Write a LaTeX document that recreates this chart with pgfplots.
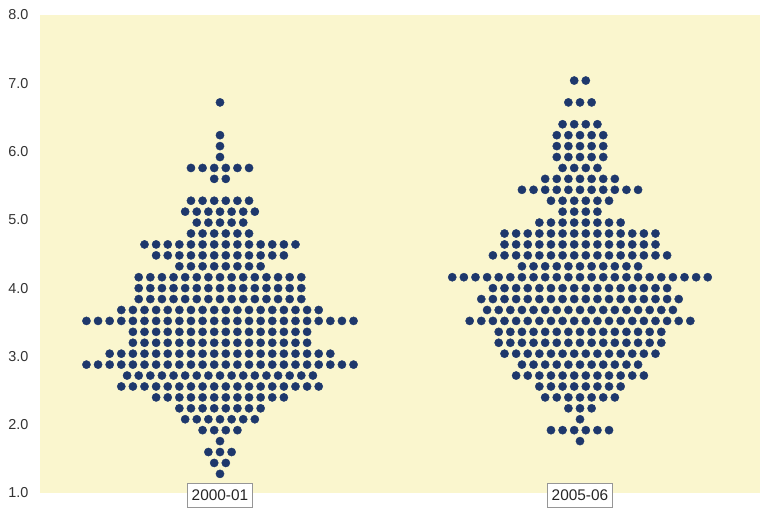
\documentclass[border=0pt]{standalone}
\usepackage{pgfplots}
\pgfplotsset{compat=1.18}
\usepackage{fontspec}
\setmainfont{Liberation Sans}
\definecolor{bgyellow}{RGB}{250,246,206}
\definecolor{navy}{RGB}{30,56,108}
\definecolor{labelgray}{RGB}{51,51,51}
\definecolor{boxgray}{RGB}{150,150,150}
\begin{document}
\begin{tikzpicture}
\begin{axis}[
  at={(0,0)}, anchor=south west,
  scale only axis, width=720pt, height=478pt,
  xmin=-31, xmax=93, ymin=1, ymax=8,
  axis background/.style={fill=bgyellow},
  axis line style={draw=none},
  major tick length=0pt,
  ytick={1,2,3,4,5,6,7,8},
  /pgf/number format/assume math mode=true,
  yticklabel style={/pgf/number format/.cd, fixed, fixed zerofill, precision=1, /tikz/.cd,
    font=\fontsize{14.4}{16}\selectfont, text=labelgray, anchor=east, xshift=-8pt},
  xtick={0,62}, xticklabels={2000-01,2005-06},
  xticklabel style={font=\fontsize{15.4}{17}\selectfont, text=black!85, draw=boxgray, line width=0.7pt,
    fill=white, anchor=center, inner xsep=4.5pt, text height=11pt, text depth=0pt, minimum height=24pt, yshift=-2.3pt},
  clip=false,
]
\addplot[only marks, mark=*, mark size=4.1pt, color=navy, mark options={draw=none, fill=navy}] coordinates {
(0,6.72)
(0,6.24)
(0,6.08)
(0,5.92)
(-5,5.76)(-3,5.76)(-1,5.76)(1,5.76)(3,5.76)(5,5.76)
(-1,5.6)(1,5.6)
(-5,5.28)(-3,5.28)(-1,5.28)(1,5.28)(3,5.28)(5,5.28)
(-6,5.12)(-4,5.12)(-2,5.12)(0,5.12)(2,5.12)(4,5.12)(6,5.12)
(-4,4.96)(-2,4.96)(0,4.96)(2,4.96)(4,4.96)
(-5,4.8)(-3,4.8)(-1,4.8)(1,4.8)(3,4.8)(5,4.8)
(-13,4.64)(-11,4.64)(-9,4.64)(-7,4.64)(-5,4.64)(-3,4.64)(-1,4.64)(1,4.64)(3,4.64)(5,4.64)(7,4.64)(9,4.64)(11,4.64)(13,4.64)
(-11,4.48)(-9,4.48)(-7,4.48)(-5,4.48)(-3,4.48)(-1,4.48)(1,4.48)(3,4.48)(5,4.48)(7,4.48)(9,4.48)(11,4.48)
(-7,4.32)(-5,4.32)(-3,4.32)(-1,4.32)(1,4.32)(3,4.32)(5,4.32)(7,4.32)
(-14,4.16)(-12,4.16)(-10,4.16)(-8,4.16)(-6,4.16)(-4,4.16)(-2,4.16)(0,4.16)(2,4.16)(4,4.16)(6,4.16)(8,4.16)(10,4.16)(12,4.16)(14,4.16)
(-14,4.0)(-12,4.0)(-10,4.0)(-8,4.0)(-6,4.0)(-4,4.0)(-2,4.0)(0,4.0)(2,4.0)(4,4.0)(6,4.0)(8,4.0)(10,4.0)(12,4.0)(14,4.0)
(-14,3.84)(-12,3.84)(-10,3.84)(-8,3.84)(-6,3.84)(-4,3.84)(-2,3.84)(0,3.84)(2,3.84)(4,3.84)(6,3.84)(8,3.84)(10,3.84)(12,3.84)(14,3.84)
(-17,3.68)(-15,3.68)(-13,3.68)(-11,3.68)(-9,3.68)(-7,3.68)(-5,3.68)(-3,3.68)(-1,3.68)(1,3.68)(3,3.68)(5,3.68)(7,3.68)(9,3.68)(11,3.68)(13,3.68)(15,3.68)(17,3.68)
(-23,3.52)(-21,3.52)(-19,3.52)(-17,3.52)(-15,3.52)(-13,3.52)(-11,3.52)(-9,3.52)(-7,3.52)(-5,3.52)(-3,3.52)(-1,3.52)(1,3.52)(3,3.52)(5,3.52)(7,3.52)(9,3.52)(11,3.52)(13,3.52)(15,3.52)(17,3.52)(19,3.52)(21,3.52)(23,3.52)
(-15,3.36)(-13,3.36)(-11,3.36)(-9,3.36)(-7,3.36)(-5,3.36)(-3,3.36)(-1,3.36)(1,3.36)(3,3.36)(5,3.36)(7,3.36)(9,3.36)(11,3.36)(13,3.36)(15,3.36)
(-15,3.2)(-13,3.2)(-11,3.2)(-9,3.2)(-7,3.2)(-5,3.2)(-3,3.2)(-1,3.2)(1,3.2)(3,3.2)(5,3.2)(7,3.2)(9,3.2)(11,3.2)(13,3.2)(15,3.2)
(-19,3.04)(-17,3.04)(-15,3.04)(-13,3.04)(-11,3.04)(-9,3.04)(-7,3.04)(-5,3.04)(-3,3.04)(-1,3.04)(1,3.04)(3,3.04)(5,3.04)(7,3.04)(9,3.04)(11,3.04)(13,3.04)(15,3.04)(17,3.04)(19,3.04)
(-23,2.88)(-21,2.88)(-19,2.88)(-17,2.88)(-15,2.88)(-13,2.88)(-11,2.88)(-9,2.88)(-7,2.88)(-5,2.88)(-3,2.88)(-1,2.88)(1,2.88)(3,2.88)(5,2.88)(7,2.88)(9,2.88)(11,2.88)(13,2.88)(15,2.88)(17,2.88)(19,2.88)(21,2.88)(23,2.88)
(-16,2.72)(-14,2.72)(-12,2.72)(-10,2.72)(-8,2.72)(-6,2.72)(-4,2.72)(-2,2.72)(0,2.72)(2,2.72)(4,2.72)(6,2.72)(8,2.72)(10,2.72)(12,2.72)(14,2.72)(16,2.72)
(-17,2.56)(-15,2.56)(-13,2.56)(-11,2.56)(-9,2.56)(-7,2.56)(-5,2.56)(-3,2.56)(-1,2.56)(1,2.56)(3,2.56)(5,2.56)(7,2.56)(9,2.56)(11,2.56)(13,2.56)(15,2.56)(17,2.56)
(-11,2.4)(-9,2.4)(-7,2.4)(-5,2.4)(-3,2.4)(-1,2.4)(1,2.4)(3,2.4)(5,2.4)(7,2.4)(9,2.4)(11,2.4)
(-7,2.24)(-5,2.24)(-3,2.24)(-1,2.24)(1,2.24)(3,2.24)(5,2.24)(7,2.24)
(-6,2.08)(-4,2.08)(-2,2.08)(0,2.08)(2,2.08)(4,2.08)(6,2.08)
(-3,1.92)(-1,1.92)(1,1.92)(3,1.92)
(0,1.76)
(-2,1.6)(0,1.6)(2,1.6)
(-1,1.44)(1,1.44)
(0,1.28)
};
\addplot[only marks, mark=*, mark size=4.1pt, color=navy, mark options={draw=none, fill=navy}] coordinates {
(61,7.04)(63,7.04)
(60,6.72)(62,6.72)(64,6.72)
(59,6.4)(61,6.4)(63,6.4)(65,6.4)
(58,6.24)(60,6.24)(62,6.24)(64,6.24)(66,6.24)
(58,6.08)(60,6.08)(62,6.08)(64,6.08)(66,6.08)
(58,5.92)(60,5.92)(62,5.92)(64,5.92)(66,5.92)
(59,5.76)(61,5.76)(63,5.76)(65,5.76)
(56,5.6)(58,5.6)(60,5.6)(62,5.6)(64,5.6)(66,5.6)(68,5.6)
(52,5.44)(54,5.44)(56,5.44)(58,5.44)(60,5.44)(62,5.44)(64,5.44)(66,5.44)(68,5.44)(70,5.44)(72,5.44)
(57,5.28)(59,5.28)(61,5.28)(63,5.28)(65,5.28)(67,5.28)
(59,5.12)(61,5.12)(63,5.12)(65,5.12)
(55,4.96)(57,4.96)(59,4.96)(61,4.96)(63,4.96)(65,4.96)(67,4.96)(69,4.96)
(49,4.8)(51,4.8)(53,4.8)(55,4.8)(57,4.8)(59,4.8)(61,4.8)(63,4.8)(65,4.8)(67,4.8)(69,4.8)(71,4.8)(73,4.8)(75,4.8)
(49,4.64)(51,4.64)(53,4.64)(55,4.64)(57,4.64)(59,4.64)(61,4.64)(63,4.64)(65,4.64)(67,4.64)(69,4.64)(71,4.64)(73,4.64)(75,4.64)
(47,4.48)(49,4.48)(51,4.48)(53,4.48)(55,4.48)(57,4.48)(59,4.48)(61,4.48)(63,4.48)(65,4.48)(67,4.48)(69,4.48)(71,4.48)(73,4.48)(75,4.48)(77,4.48)
(52,4.32)(54,4.32)(56,4.32)(58,4.32)(60,4.32)(62,4.32)(64,4.32)(66,4.32)(68,4.32)(70,4.32)(72,4.32)
(40,4.16)(42,4.16)(44,4.16)(46,4.16)(48,4.16)(50,4.16)(52,4.16)(54,4.16)(56,4.16)(58,4.16)(60,4.16)(62,4.16)(64,4.16)(66,4.16)(68,4.16)(70,4.16)(72,4.16)(74,4.16)(76,4.16)(78,4.16)(80,4.16)(82,4.16)(84,4.16)
(47,4.0)(49,4.0)(51,4.0)(53,4.0)(55,4.0)(57,4.0)(59,4.0)(61,4.0)(63,4.0)(65,4.0)(67,4.0)(69,4.0)(71,4.0)(73,4.0)(75,4.0)(77,4.0)
(45,3.84)(47,3.84)(49,3.84)(51,3.84)(53,3.84)(55,3.84)(57,3.84)(59,3.84)(61,3.84)(63,3.84)(65,3.84)(67,3.84)(69,3.84)(71,3.84)(73,3.84)(75,3.84)(77,3.84)(79,3.84)
(46,3.68)(48,3.68)(50,3.68)(52,3.68)(54,3.68)(56,3.68)(58,3.68)(60,3.68)(62,3.68)(64,3.68)(66,3.68)(68,3.68)(70,3.68)(72,3.68)(74,3.68)(76,3.68)(78,3.68)
(43,3.52)(45,3.52)(47,3.52)(49,3.52)(51,3.52)(53,3.52)(55,3.52)(57,3.52)(59,3.52)(61,3.52)(63,3.52)(65,3.52)(67,3.52)(69,3.52)(71,3.52)(73,3.52)(75,3.52)(77,3.52)(79,3.52)(81,3.52)
(48,3.36)(50,3.36)(52,3.36)(54,3.36)(56,3.36)(58,3.36)(60,3.36)(62,3.36)(64,3.36)(66,3.36)(68,3.36)(70,3.36)(72,3.36)(74,3.36)(76,3.36)
(48,3.2)(50,3.2)(52,3.2)(54,3.2)(56,3.2)(58,3.2)(60,3.2)(62,3.2)(64,3.2)(66,3.2)(68,3.2)(70,3.2)(72,3.2)(74,3.2)(76,3.2)
(49,3.04)(51,3.04)(53,3.04)(55,3.04)(57,3.04)(59,3.04)(61,3.04)(63,3.04)(65,3.04)(67,3.04)(69,3.04)(71,3.04)(73,3.04)(75,3.04)
(52,2.88)(54,2.88)(56,2.88)(58,2.88)(60,2.88)(62,2.88)(64,2.88)(66,2.88)(68,2.88)(70,2.88)(72,2.88)
(51,2.72)(53,2.72)(55,2.72)(57,2.72)(59,2.72)(61,2.72)(63,2.72)(65,2.72)(67,2.72)(69,2.72)(71,2.72)(73,2.72)
(55,2.56)(57,2.56)(59,2.56)(61,2.56)(63,2.56)(65,2.56)(67,2.56)(69,2.56)
(56,2.4)(58,2.4)(60,2.4)(62,2.4)(64,2.4)(66,2.4)(68,2.4)
(60,2.24)(62,2.24)(64,2.24)
(62,2.08)
(57,1.92)(59,1.92)(61,1.92)(63,1.92)(65,1.92)(67,1.92)
(62,1.76)
};
\end{axis}
\pgfresetboundingbox
\useasboundingbox (-40pt,-15pt) rectangle (720pt,493pt);
\end{tikzpicture}
\end{document}
